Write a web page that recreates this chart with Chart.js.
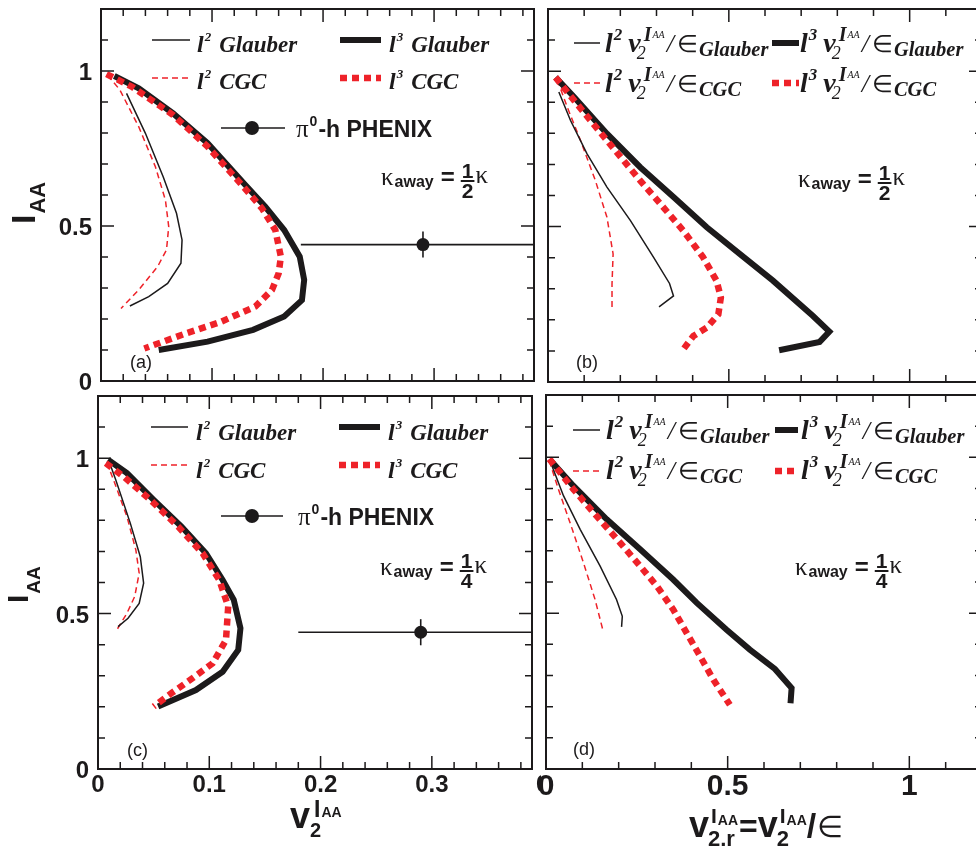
<!DOCTYPE html>
<html><head><meta charset="utf-8">
<script src="https://cdn.jsdelivr.net/npm/chart.js@4.4.1/dist/chart.umd.min.js"></script>
<style>
html,body{margin:0;padding:0;width:976px;height:846px;overflow:hidden;background:#fff}
canvas{position:absolute;left:0;top:0}
</style></head><body>
<canvas id="ca" width="1000" height="846"></canvas>
<canvas id="cb" width="1000" height="846"></canvas>
<canvas id="cc" width="1000" height="846"></canvas>
<canvas id="cd" width="1000" height="846"></canvas>
<script>
// ---------- data ----------
// panel (a): kappa_away = kappa/2, x = v2^IAA
const aL2GlauberX = [0.023,0.040,0.056,0.068,0.073,0.072,0.060,0.043,0.026];
const aL2GlauberY = [0.928,0.799,0.659,0.541,0.455,0.380,0.315,0.272,0.242];
const aL2CgcX = [0.006,0.017,0.034,0.049,0.058,0.061,0.059,0.051,0.034,0.018];
const aL2CgcY = [0.987,0.939,0.820,0.691,0.584,0.498,0.423,0.369,0.294,0.234];
const aL3GlauberX = [0.012,0.034,0.065,0.096,0.130,0.148,0.165,0.179,0.183,0.181,0.165,0.137,0.096,0.052];
const aL3GlauberY = [0.984,0.944,0.863,0.767,0.632,0.562,0.487,0.401,0.326,0.261,0.208,0.165,0.127,0.100];
const aL3CgcX = [0.005,0.028,0.065,0.096,0.127,0.145,0.157,0.162,0.160,0.154,0.139,0.108,0.077,0.039];
const aL3CgcY = [0.990,0.949,0.858,0.756,0.632,0.557,0.487,0.401,0.347,0.294,0.240,0.191,0.154,0.105];
// panel (b): kappa_away = kappa/2, x = v2^IAA / eps
const bL2GlauberX = [0.030,0.062,0.108,0.163,0.228,0.292,0.336,0.347,0.307];
const bL2GlauberY = [0.933,0.842,0.734,0.627,0.519,0.401,0.317,0.277,0.242];
const bL2CgcX = [0.026,0.053,0.090,0.131,0.163,0.180,0.177,0.177];
const bL2CgcY = [0.971,0.885,0.777,0.648,0.530,0.412,0.315,0.234];
const bL3GlauberX = [0.021,0.072,0.163,0.255,0.347,0.439,0.530,0.622,0.732,0.778,0.751,0.639];
const bL3GlauberY = [0.980,0.917,0.799,0.691,0.595,0.498,0.412,0.326,0.213,0.162,0.129,0.102];
const bL3CgcX = [0.021,0.072,0.163,0.255,0.319,0.374,0.429,0.466,0.478,0.471,0.439,0.402,0.372];
const bL3CgcY = [0.980,0.906,0.777,0.648,0.562,0.487,0.401,0.326,0.272,0.218,0.175,0.148,0.102];
// panel (c): kappa_away = kappa/4
const cL2GlauberX = [0.010,0.016,0.029,0.038,0.041,0.037,0.027,0.018];
const cL2GlauberY = [0.989,0.930,0.791,0.683,0.598,0.533,0.485,0.458];
const cL2CgcX = [0.008,0.015,0.026,0.034,0.037,0.033,0.026,0.016];
const cL2CgcY = [0.986,0.920,0.812,0.705,0.630,0.555,0.501,0.442];
const cL3GlauberX = [0.009,0.026,0.050,0.075,0.097,0.112,0.122,0.128,0.126,0.112,0.088,0.054];
const cL3GlauberY = [0.995,0.952,0.866,0.780,0.694,0.608,0.544,0.453,0.383,0.313,0.254,0.201];
const cL3CgcX = [0.007,0.023,0.047,0.072,0.094,0.109,0.117,0.115,0.103,0.085,0.066,0.050];
const cL3CgcY = [0.984,0.941,0.866,0.780,0.694,0.608,0.523,0.415,0.340,0.292,0.244,0.201];
// panel (d): kappa_away = kappa/4
const dL2GlauberX = [0.011,0.048,0.094,0.149,0.194,0.210,0.208];
const dL2GlauberY = [0.989,0.877,0.769,0.651,0.544,0.490,0.456];
const dL2CgcX = [0.009,0.034,0.066,0.103,0.135,0.158];
const dL2CgcY = [0.989,0.898,0.791,0.662,0.544,0.439];
const dL3GlauberX = [0.011,0.075,0.167,0.259,0.350,0.415,0.497,0.561,0.630,0.676,0.673];
const dL3GlauberY = [0.992,0.909,0.801,0.705,0.608,0.533,0.447,0.383,0.321,0.260,0.211];
const dL3CgcX = [0.009,0.075,0.139,0.204,0.259,0.305,0.350,0.387,0.424,0.461,0.506];
const dL3CgcY = [0.995,0.898,0.812,0.726,0.651,0.587,0.512,0.437,0.362,0.286,0.206];
// PHENIX pi0-h point
const phenixV2 = [0.29];
const phenixIaa = [0.44];
const phenixXLow = [0.18];
const phenixXHigh = [0.40];
const phenixYErr = [0.042];
// ticks
const leftXMajor = [0, 0.1, 0.2, 0.3];
const leftXMinor = [0.02,0.04,0.06,0.08,0.12,0.14,0.16,0.18,0.22,0.24,0.26,0.28,0.32,0.34,0.36,0.38];
const leftXLabels = ['0','0.1','0.2','0.3'];
const rightXMajor = [0, 0.5, 1];
const rightXMinor = [0.1,0.2,0.3,0.4,0.6,0.7,0.8,0.9,1.1];
const rightXLabels = ['0','0.5','1'];
const yMajor = [0, 0.5, 1];
const yMinor = [0.1,0.2,0.3,0.4,0.6,0.7,0.8,0.9,1.1];
const yLabels = ['0','0.5','1'];

// ---------- styling ----------
const W = 1000, H = 846;
const INK = '#1c1a1b';
const RED = '#ee2229';
const SANS = '"Liberation Sans", Arial, sans-serif';
const SERIF = '"Liberation Serif", "Times New Roman", serif';
const bi = s => `italic bold ${s}px ${SERIF}`;
const it = s => `italic ${s}px ${SERIF}`;
const rm = s => `${s}px ${SERIF}`;
const bs = s => `bold ${s}px ${SANS}`;
const STYLES = {
  l2g: {c: INK, w: 1.5, dash: [], order: 3},
  l2c: {c: RED, w: 1.5, dash: [6, 4], order: 4},
  l3g: {c: INK, w: 6, dash: [], order: 2},
  l3c: {c: RED, w: 6.5, dash: [7, 5], order: 1}
};

function lineDs(xs, ys, key) {
  const s = STYLES[key];
  return { data: xs.map((x, i) => ({x, y: ys[i]})), showLine: true, pointRadius: 0,
    borderColor: s.c, borderWidth: s.w, borderDash: s.dash, borderCapStyle: 'butt',
    borderJoinStyle: 'miter', fill: false, order: s.order, tension: 0 };
}
function phenixDs() {
  return [
    { data: phenixV2.map((x, i) => ({x, y: phenixIaa[i]})), showLine: false, pointRadius: 6.5,
      pointBackgroundColor: INK, pointBorderWidth: 0, order: 0 },
    { data: [{x: phenixXLow[0], y: phenixIaa[0]}, {x: phenixXHigh[0], y: phenixIaa[0]}], showLine: true,
      pointRadius: 0, borderColor: INK, borderWidth: 1.6, order: 0 },
    { data: [{x: phenixV2[0], y: phenixIaa[0] - phenixYErr[0]}, {x: phenixV2[0], y: phenixIaa[0] + phenixYErr[0]}],
      showLine: true, pointRadius: 0, borderColor: INK, borderWidth: 1.6, order: 0 }
  ];
}

// rich text: stack = start under previous base run, follow = right after previous drawn run
function rich(ctx, x, y, runs) {
  let cx = x, ls = x, prevEnd = x;
  for (const r of runs) {
    ctx.font = r.f;
    const w = ctx.measureText(r.t).width;
    const base = r.stack ? ls : (r.follow ? prevEnd : cx);
    const sx = base + (r.dx || 0);
    ctx.fillText(r.t, sx, y + (r.dy || 0));
    if (!r.stack && !r.follow) ls = sx;
    prevEnd = sx + w;
    cx = Math.max(r.stack || r.follow ? cx : 0, sx + w);
  }
  return cx;
}
function sample(ctx, x1, x2, y, key) {
  const s = STYLES[key];
  ctx.save(); ctx.strokeStyle = s.c; ctx.lineWidth = s.w; ctx.setLineDash(s.dash); ctx.lineCap = 'butt';
  ctx.beginPath(); ctx.moveTo(x1, y); ctx.lineTo(x2, y); ctx.stroke(); ctx.restore();
}
function simpleRuns(sq, name) {
  return [{t: 'l', f: bi(24)}, {t: sq, f: bi(13), dy: -11, dx: 1}, {t: name, f: bi(23), dx: 8}];
}
function vRuns(sq, name) {
  return [
    {t: 'l', f: bi(28)}, {t: sq, f: bi(17), dy: -12, dx: 1},
    {t: 'v', f: bi(28), dx: 6},
    {t: '2', f: it(18), dy: 7, dx: -4},
    {t: 'I', f: bi(20), dy: -11, stack: true, dx: 7},
    {t: 'AA', f: it(10), dy: -14, follow: true, dx: 1},
    {t: '/', f: it(26), dx: 2},
    {t: '\u2208', f: rm(24), dx: 3},
    {t: name, f: bi(20.5), dy: 4, dx: 1}
  ];
}
function kappa(ctx, x, y, den) {
  let cx = rich(ctx, x, y, [{t: '\u03BA', f: rm(25)}, {t: 'away', f: bs(16), dy: 2, dx: 1}, {t: '=', f: bs(24), dx: 7}]);
  ctx.font = bs(21);
  const fw = Math.max(ctx.measureText('1').width, ctx.measureText(den).width) + 2;
  const fx = cx + 6;
  ctx.textAlign = 'center';
  ctx.fillText('1', fx + fw / 2, y - 7);
  ctx.fillText(den, fx + fw / 2, y + 13);
  ctx.textAlign = 'left';
  ctx.fillRect(fx, y - 5, fw, 2);
  rich(ctx, fx + fw + 1, y - 2, [{t: '\u03BA', f: rm(25)}]);
}
function yTitle(ctx, bx, by, fI, fA, dyA) {
  ctx.save(); ctx.translate(bx, by); ctx.rotate(-Math.PI / 2);
  ctx.font = bs(fI); ctx.fillText('I', 0, 0);
  const w = ctx.measureText('I').width;
  ctx.font = bs(fA); ctx.fillText('AA', w + 1, dyA);
  ctx.restore();
}

function decoPlugin(P) {
  return {
    id: 'deco',
    afterDatasetsDraw(chart) {
      const ctx = chart.ctx;
      const {left, right, top, bottom} = chart.chartArea;
      const xs = chart.scales.x, ys = chart.scales.y;
      ctx.save();
      ctx.fillStyle = INK; ctx.strokeStyle = INK;
      // frame
      ctx.lineWidth = 2; ctx.strokeRect(left, top, right - left, bottom - top);
      // ticks
      ctx.lineWidth = 1.5; ctx.beginPath();
      const xt = (v, L) => { const p = xs.getPixelForValue(v); ctx.moveTo(p, bottom); ctx.lineTo(p, bottom - L); ctx.moveTo(p, top); ctx.lineTo(p, top + L); };
      const yt = (v, L) => { const p = ys.getPixelForValue(v); ctx.moveTo(left, p); ctx.lineTo(left + L, p); ctx.moveTo(right, p); ctx.lineTo(right - L, p); };
      P.xMajor.forEach(v => xt(v, 13)); P.xMinor.forEach(v => xt(v, 7));
      yMajor.forEach(v => yt(v, 13)); yMinor.forEach(v => yt(v, 7));
      ctx.stroke();
      // y tick labels
      if (P.yLab) {
        ctx.font = bs(24); ctx.textAlign = 'right';
        yMajor.forEach((v, i) => ctx.fillText(yLabels[i], left - 9, ys.getPixelForValue(v) + 9));
        ctx.textAlign = 'left';
      }
      // x tick labels
      if (P.xLab) {
        ctx.font = bs(P.xLab.size); ctx.textAlign = 'center';
        P.xMajor.forEach((v, i) => ctx.fillText(P.xLab.text[i], xs.getPixelForValue(v), P.xLab.base));
        ctx.textAlign = 'left';
        if (P.xLab.cut) { // sliver of the next label, hidden under the neighbouring panel
          ctx.save(); ctx.beginPath(); ctx.rect(P.xLab.cut[0], 0, P.xLab.cut[1] - P.xLab.cut[0], H); ctx.clip();
          ctx.fillText('0.4', P.xLab.cut[0], P.xLab.base); ctx.restore();
        }
      }
      // legend
      const L = P.leg;
      sample(ctx, L.x1, L.x2, L.y1, 'l2g');
      sample(ctx, L.x3, L.x4, L.y1, 'l3g');
      sample(ctx, L.x1, L.x2, L.y2, 'l2c');
      sample(ctx, L.x3, L.x4, L.y2, 'l3c');
      const R = L.v ? vRuns : simpleRuns;
      rich(ctx, L.t1, L.b1, R('2', 'Glauber'));
      rich(ctx, L.t2, L.b1, R('3', 'Glauber'));
      rich(ctx, L.t1, L.b2, R('2', 'CGC'));
      rich(ctx, L.t2, L.b2, R('3', 'CGC'));
      if (P.ph) {
        const p = P.ph;
        ctx.lineWidth = 1.6; ctx.beginPath(); ctx.moveTo(p.x1, p.y); ctx.lineTo(p.x2, p.y); ctx.stroke();
        ctx.beginPath(); ctx.arc(p.cx, p.y, 7, 0, Math.PI * 2); ctx.fill();
        rich(ctx, p.tx, p.tb, [{t: '\u03C0', f: rm(25)}, {t: '0', f: bs(14), dy: -11, dx: 1}, {t: '-h PHENIX', f: bs(23), dx: 1}]);
      }
      kappa(ctx, P.kap.x, P.kap.y, P.kap.den);
      ctx.font = `18px ${SANS}`; ctx.fillText(P.tag.t, P.tag.x, P.tag.y);
      if (P.yt) yTitle(ctx, P.yt.bx, P.yt.by, P.yt.fI, P.yt.fA, P.yt.dy);
      if (P.xt) P.xt(ctx);
      ctx.restore();
    }
  };
}

function makeChart(id, P, datasets) {
  new Chart(document.getElementById(id), {
    type: 'scatter',
    data: {datasets},
    options: {
      responsive: false, animation: false, devicePixelRatio: 1,
      layout: {padding: {left: P.box[0], top: P.box[1], right: W - P.box[2], bottom: H - P.box[3]}},
      scales: {
        x: {type: 'linear', min: 0, max: P.xMax, display: false},
        y: {type: 'linear', min: 0, max: 1.2, display: false}
      },
      plugins: {legend: {display: false}, tooltip: {enabled: false}}
    },
    plugins: [decoPlugin(P)]
  });
}

const PA = {
  box: [101, 9, 534, 381], xMax: 0.39, xMajor: leftXMajor, xMinor: leftXMinor, yLab: true,
  leg: {x1: 152, x2: 190, x3: 340, x4: 381, y1: 40, y2: 78, t1: 197, t2: 389, b1: 52, b2: 89, v: false},
  ph: {x1: 221, x2: 285, cx: 252, y: 128, tx: 296, tb: 137},
  kap: {x: 381, y: 185, den: '2'}, tag: {t: '(a)', x: 130, y: 368},
  yt: {bx: 35, by: 224, fI: 34, fA: 22, dy: 10}
};
const PB = {
  box: [548, 9, 982, 382], xMax: 1.2, xMajor: rightXMajor, xMinor: rightXMinor, yLab: false,
  leg: {x1: 574, x2: 600, x3: 772, x4: 799, y1: 43, y2: 83, t1: 605, t2: 800, b1: 52, b2: 92, v: true},
  kap: {x: 798, y: 187, den: '2'}, tag: {t: '(b)', x: 576, y: 368}
};
const PC = {
  box: [98, 396, 532, 769], xMax: 0.39, xMajor: leftXMajor, xMinor: leftXMinor, yLab: true,
  xLab: {text: leftXLabels, size: 24, base: 792, cut: [536, 541]},
  leg: {x1: 151, x2: 188, x3: 339, x4: 380, y1: 427, y2: 465, t1: 196, t2: 388, b1: 440, b2: 478, v: false},
  ph: {x1: 221, x2: 283, cx: 252, y: 516, tx: 298, tb: 525},
  kap: {x: 380, y: 575, den: '4'}, tag: {t: '(c)', x: 127, y: 756},
  yt: {bx: 28, by: 603, fI: 30, fA: 19, dy: 12},
  xt: ctx => rich(ctx, 290, 828, [
    {t: 'v', f: bs(36)}, {t: '2', f: bs(20), dy: 9},
    {t: 'I', f: bs(23), dy: -11, stack: true, dx: 4}, {t: 'AA', f: bs(14), dy: -11, follow: true, dx: 1}])
};
const PD = {
  box: [546, 395, 982, 769], xMax: 1.2, xMajor: rightXMajor, xMinor: rightXMinor, yLab: false,
  xLab: {text: rightXLabels, size: 30, base: 795},
  leg: {x1: 573, x2: 600, x3: 775, x4: 798, y1: 430, y2: 471, t1: 606, t2: 801, b1: 439, b2: 479, v: true},
  kap: {x: 795, y: 575, den: '4'}, tag: {t: '(d)', x: 573, y: 755},
  xt: ctx => rich(ctx, 689, 837, [
    {t: 'v', f: bs(36)}, {t: '2,r', f: bs(22), dy: 9, dx: -1},
    {t: 'I', f: bs(21), dy: -14, stack: true, dx: 3}, {t: 'AA', f: bs(14), dy: -12, follow: true, dx: 1},
    {t: '=', f: bs(32), dx: 1},
    {t: 'v', f: bs(36)}, {t: '2', f: bs(22), dy: 9, dx: -1},
    {t: 'I', f: bs(21), dy: -14, stack: true, dx: 3}, {t: 'AA', f: bs(14), dy: -12, follow: true, dx: 1},
    {t: '/', f: bs(34), dx: 0}, {t: '\u2208', f: rm(30), dx: 1}])
};

makeChart('ca', PA, [lineDs(aL3CgcX, aL3CgcY, 'l3c'), lineDs(aL3GlauberX, aL3GlauberY, 'l3g'),
  lineDs(aL2GlauberX, aL2GlauberY, 'l2g'), lineDs(aL2CgcX, aL2CgcY, 'l2c'), ...phenixDs()]);
makeChart('cb', PB, [lineDs(bL3CgcX, bL3CgcY, 'l3c'), lineDs(bL3GlauberX, bL3GlauberY, 'l3g'),
  lineDs(bL2GlauberX, bL2GlauberY, 'l2g'), lineDs(bL2CgcX, bL2CgcY, 'l2c')]);
makeChart('cc', PC, [lineDs(cL3CgcX, cL3CgcY, 'l3c'), lineDs(cL3GlauberX, cL3GlauberY, 'l3g'),
  lineDs(cL2GlauberX, cL2GlauberY, 'l2g'), lineDs(cL2CgcX, cL2CgcY, 'l2c'), ...phenixDs()]);
makeChart('cd', PD, [lineDs(dL3CgcX, dL3CgcY, 'l3c'), lineDs(dL3GlauberX, dL3GlauberY, 'l3g'),
  lineDs(dL2GlauberX, dL2GlauberY, 'l2g'), lineDs(dL2CgcX, dL2CgcY, 'l2c')]);
</script>
</body></html>
